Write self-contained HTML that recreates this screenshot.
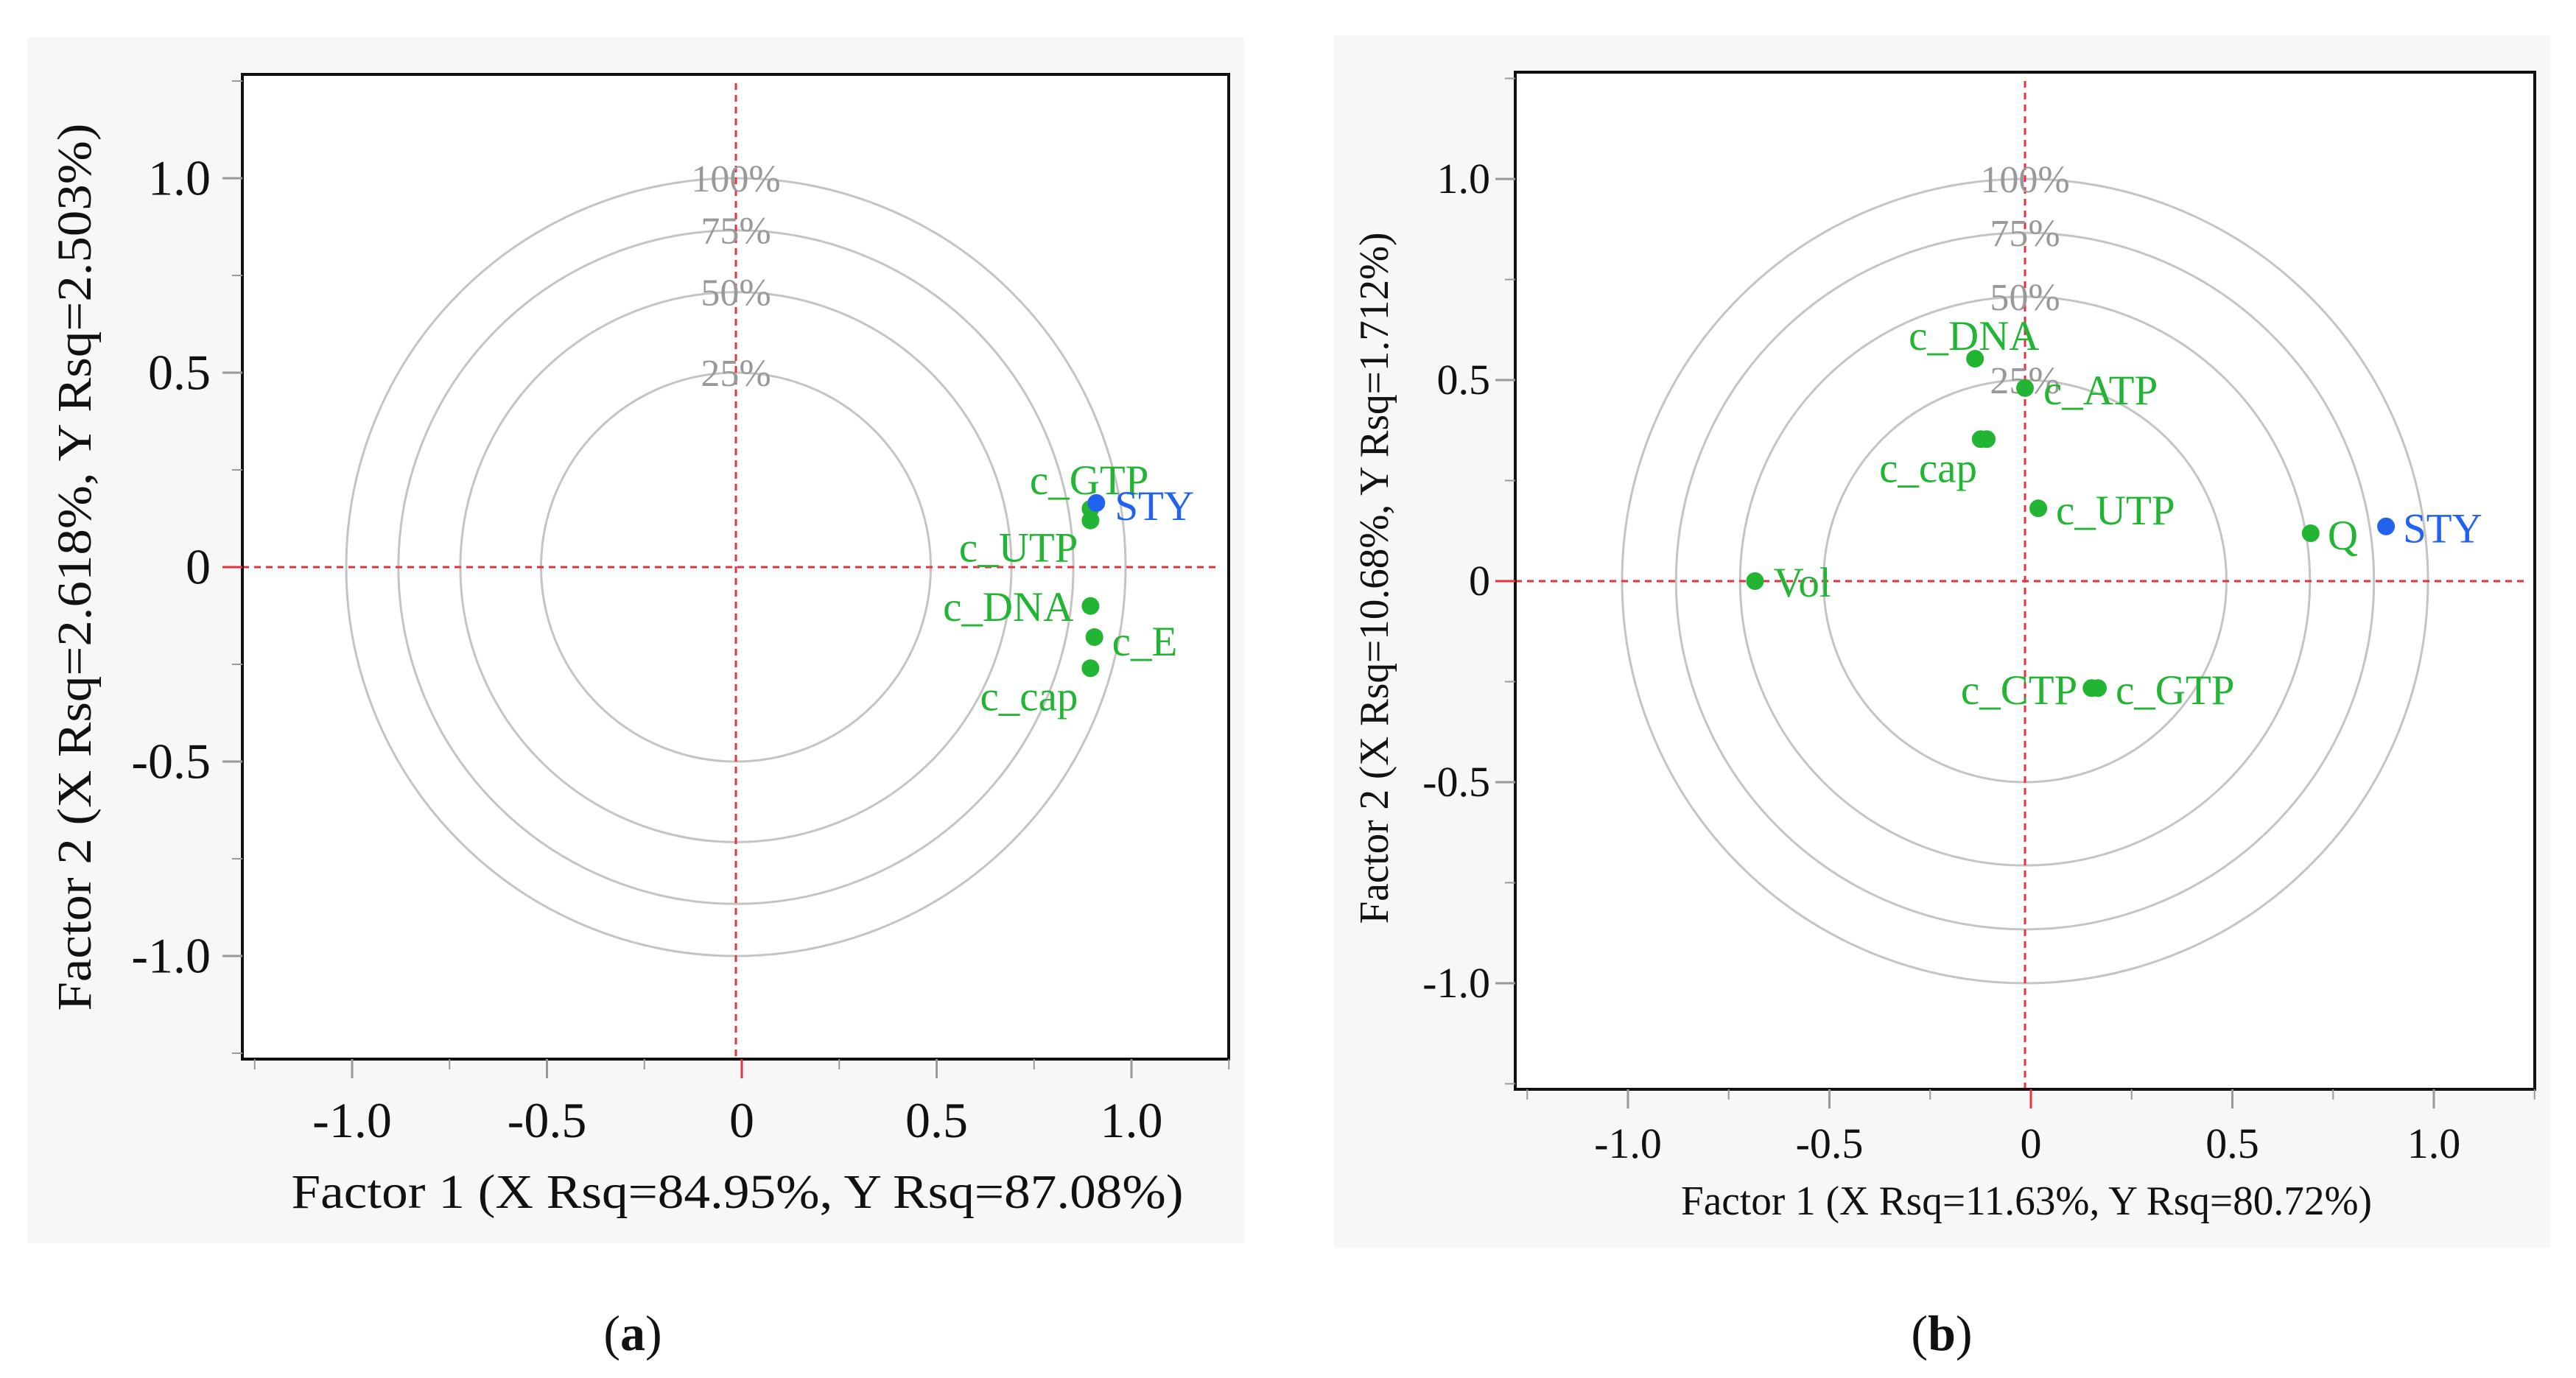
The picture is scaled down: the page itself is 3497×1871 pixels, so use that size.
<!DOCTYPE html>
<html><head><meta charset="utf-8">
<style>
html,body{margin:0;padding:0;background:#fff;}
svg{display:block;}
text{font-family:"Liberation Serif",serif;}
</style></head>
<body>
<svg id="chart" width="3497" height="1871" viewBox="0 0 3497 1871" xmlns="http://www.w3.org/2000/svg">
<rect x="0" y="0" width="3497" height="1871" fill="#fff"/>
</svg>
<script>
// ---- data ----
const ticks = [-1.0, -0.5, 0, 0.5, 1.0];
const tickLabels = ["-1.0", "-0.5", "0", "0.5", "1.0"];
const minorTicks = [-1.25, -0.75, -0.25, 0.25, 0.75, 1.25];
const circleR2 = [1.0, 0.75, 0.5, 0.25];
const circleLabels = ["100%", "75%", "50%", "25%"];

const aNames = ["c_GTP", "c_UTP", "c_DNA", "c_E", "c_cap", "STY"];
const aX = [0.91, 0.91, 0.91, 0.92, 0.91, 0.925];
const aY = [0.15, 0.12, -0.10, -0.18, -0.26, 0.165];
const aColor = ["g", "g", "g", "g", "g", "b"];

const bNames = ["c_DNA", "c_ATP", "c_cap", "c_cap2", "c_UTP", "Q", "STY", "Vol", "c_CTP", "c_GTP"];
const bX = [-0.124, 0.0, -0.11, -0.095, 0.033, 0.709, 0.896, -0.67, 0.165, 0.181];
const bY = [0.553, 0.48, 0.353, 0.353, 0.181, 0.119, 0.136, 0.0, -0.266, -0.266];
const bColor = ["g", "g", "g", "g", "g", "g", "b", "g", "g", "g"];
const bLabels = ["c_DNA", "c_ATP", "", "c_cap", "c_UTP", "Q", "STY", "Vol", "c_CTP", "c_GTP"];

// label layout (pixel offsets, anchor)
const aLay = [[79,-20,"end"],[-17,56,"end"],[-23,20,"end"],[24,25,"start"],[-17,57,"end"],[25,23,"start"]];
const bLay = [[-90,-12,"start"],[25,22,"start"],[0,0,"start"],[-13,58,"end"],[24,22,"start"],[23,22,"start"],[23,22,"start"],[25,21,"start"],[-19,22,"end"],[24,22,"start"]];

const NS = "http://www.w3.org/2000/svg";
const svg = document.getElementById("chart");
function el(tag, attrs, parent, txt){
  const e = document.createElementNS(NS, tag);
  for (const k in attrs) e.setAttribute(k, attrs[k]);
  if (txt !== undefined) e.textContent = txt;
  (parent || svg).appendChild(e);
  return e;
}
const RED = "#e8303f", GREEN = "#22b533", BLUE = "#2262f0";

function panel(P){
  const g = el("g", {});
  
  
  const bg = el("rect", {x:P.bg[0], y:P.bg[1], width:P.bg[2]-P.bg[0], height:P.bg[3]-P.bg[1], fill:"#f7f7f7"}, g);
  
  
  const pl = el("rect", {x:P.box[0], y:P.box[1], width:P.box[2]-P.box[0], height:P.box[3]-P.box[1], fill:"#fff"}, g);
  
  
  const sx = v => P.cx + v*P.ux;
  const tx = v => P.tx0 + v*P.ux;
  const sy = v => P.cy - v*P.uy;
  circleR2.forEach((r2,i)=>{
    const r = Math.sqrt(r2);
    const c = el("ellipse", {cx:sx(0), cy:sy(0), rx:r*P.ux, ry:r*P.uy, fill:"none", stroke:"#c4c4c4", "stroke-width":3}, g);
    
    
  });
  const hl = el("line", {x1:P.box[0], x2:P.box[2]-12, y1:sy(0), y2:sy(0), stroke:RED, "stroke-width":3, "stroke-dasharray":"9 7"}, g);
  
  
  const vl = el("line", {x1:sx(0), x2:sx(0), y1:P.box[1]+12, y2:P.box[3], stroke:RED, "stroke-width":3, "stroke-dasharray":"9 7"}, g);
  
  
  circleR2.forEach((r2,i)=>{
    const r = Math.sqrt(r2);
    const t = el("text", {x:sx(0), y:sy(r)+P.pctDy, "text-anchor":"middle", "font-size":P.pctFs, fill:"#999"}, g, circleLabels[i]);
    
    
  });
  const bx = el("rect", {x:P.box[0], y:P.box[1], width:P.box[2]-P.box[0], height:P.box[3]-P.box[1], fill:"none", stroke:"#111", "stroke-width":4}, g);
  
  
  ticks.forEach((v,i)=>{
    const yl = el("line", {x1:P.box[0]-27, x2:P.box[0], y1:sy(v), y2:sy(v), stroke: v===0?RED:"#999", "stroke-width":3}, g);
    
    
    const yt = el("text", {x:P.yLabX, y:sy(v)+P.tickFs*0.33, "text-anchor":"end", "font-size":P.tickFs, fill:"#111"}, g, tickLabels[i]);
    
    
    const xl = el("line", {x1:tx(v), x2:tx(v), y1:P.box[3], y2:P.box[3]+26, stroke: v===0?RED:"#999", "stroke-width":3}, g);
    
    
    const xt = el("text", {x:tx(v), y:P.xLabY, "text-anchor":"middle", "font-size":P.tickFs, fill:"#111"}, g, tickLabels[i]);
    
    
  });
  minorTicks.forEach(v=>{
    const y = sy(v);
    if (y > P.box[1]-2 && y < P.box[3]+2){
      const m = el("line", {x1:P.box[0]-14, x2:P.box[0], y1:y, y2:y, stroke:"#999", "stroke-width":2}, g);
      
      
    }
    const x = tx(v);
    if (x > P.box[0]-2 && x < P.box[2]+2){
      const m = el("line", {x1:x, x2:x, y1:P.box[3], y2:P.box[3]+14, stroke:"#999", "stroke-width":2}, g);
      
      
    }
  });
  const xt = el("text", {x:P.xTitle[0], y:P.xTitle[1], "text-anchor":"middle", "font-size":P.titleFs, fill:"#111", textLength:P.xTitle[2], lengthAdjust:"spacingAndGlyphs"}, g, P.xTitleText);
  
  
  const yt = el("text", {x:0, y:0, transform:`translate(${P.yTitle[0]},${P.yTitle[1]}) rotate(-90)`, "text-anchor":"middle", "font-size":P.titleFs, fill:"#111", textLength:P.yTitle[2], lengthAdjust:"spacingAndGlyphs"}, g, P.yTitleText);
  
  
  P.xs.forEach((v,i)=>{
    const col = P.cols[i]==="b"?BLUE:GREEN;
    const px = sx(v), py = sy(P.ys[i]);
    const d = el("circle", {cx:px, cy:py, r:12, fill:col}, g);
    
    
    const lab = P.labels[i];
    if (lab){
      const L = P.lay[i];
      const t = el("text", {x:px+L[0], y:py+L[1], "text-anchor":L[2], "font-size":P.ptFs, fill:col}, g, lab);
      
      
    }
  });
  const cap = el("text", {x:P.cap[0], y:P.cap[1], "text-anchor":"middle", "font-size":68, fill:"#111"}, g);
  
  
  el("tspan", {}, cap, "(");
  el("tspan", {"font-weight":"bold"}, cap, P.capLetter);
  el("tspan", {}, cap, ")");
}

panel({name:"panel-a", bg:[37,51,1689,1688], box:[329,101,1668,1438], cx:999, tx0:1007, cy:770, ux:529, uy:528,
  pctDy:18, pctFs:52, tickFs:68, titleFs:66, ptFs:57, yLabX:286, xLabY:1544,
  xTitle:[1001,1640,1211], xTitleText:"Factor 1 (X Rsq=84.95%, Y Rsq=87.08%)",
  yTitle:[123,770,1205], yTitleText:"Factor 2 (X Rsq=2.618%, Y Rsq=2.503%)",
  xs:aX, ys:aY, cols:aColor, names:aNames, labels:aNames, lay:aLay, cap:[859,1833], capLetter:"a"});

panel({name:"panel-b", bg:[1811,48,3462,1694], box:[2057,98,3441,1479], cx:2749, tx0:2757, cy:789, ux:547, uy:546,
  pctDy:18, pctFs:52, tickFs:58, titleFs:56, ptFs:57, yLabX:2023, xLabY:1572,
  xTitle:[2751,1649,938], xTitleText:"Factor 1 (X Rsq=11.63%, Y Rsq=80.72%)",
  yTitle:[1884,785,939], yTitleText:"Factor 2 (X Rsq=10.68%, Y Rsq=1.712%)",
  xs:bX, ys:bY, cols:bColor, names:bNames, labels:bLabels, lay:bLay, cap:[2636,1833], capLetter:"b"});
</script>
</body></html>
